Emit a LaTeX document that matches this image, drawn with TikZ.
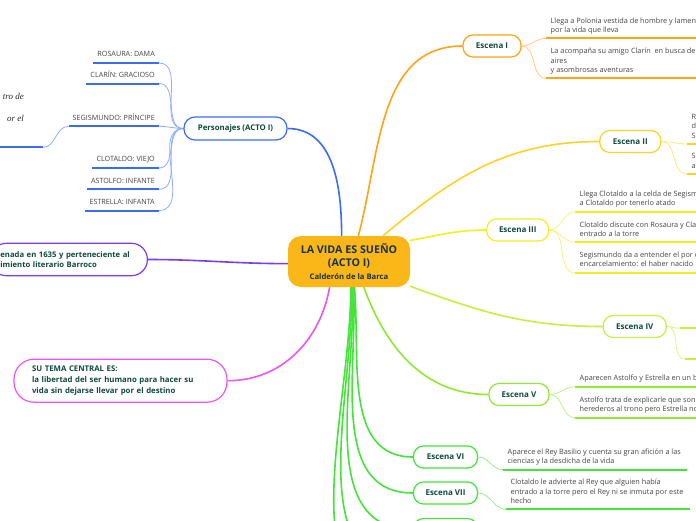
\documentclass[tikz,border=0pt]{standalone}
\usepackage{fontspec}
\setmainfont{Open Sans}
\newfontfamily\serifit{Liberation Serif}
\usetikzlibrary{backgrounds}
\definecolor{cfill}{HTML}{FBB717}
\definecolor{ctext}{HTML}{17324D}
\definecolor{tgreen}{HTML}{0E4A3C}
\definecolor{tgray}{HTML}{454545}
\definecolor{cblue}{HTML}{3B6CF6}
\definecolor{lblue}{HTML}{8FAEFF}
\definecolor{corange}{HTML}{FFA415}
\definecolor{lorange}{HTML}{FFCC80}
\definecolor{cgold}{HTML}{FFD224}
\definecolor{lgold}{HTML}{FFE680}
\definecolor{cyel}{HTML}{F3EE1E}
\definecolor{lyel}{HTML}{F7F380}
\definecolor{clime}{HTML}{C6F03C}
\definecolor{llime}{HTML}{DDF78A}
\definecolor{cgrfive}{HTML}{8FEA2C}
\definecolor{lgrfive}{HTML}{BDF387}
\definecolor{cgrsix}{HTML}{45E43A}
\definecolor{lgrsix}{HTML}{94EF8C}
\definecolor{cpurp}{HTML}{7A3CF0}
\definecolor{cpink}{HTML}{EE55EE}
\begin{document}
\begin{tikzpicture}[x=1pt,y=-1pt,
  branch/.style={draw=#1, line width=1.2pt, fill=white, rounded corners=10pt, minimum height=22pt, font=\fontsize{8}{10}\selectfont\bfseries, text=tgreen, inner sep=2pt},
  leaf/.style={font=\fontsize{7.3}{9.4}\selectfont, text=tgray, align=left, inner xsep=4.5pt, inner ysep=4pt, text depth=1.6pt},
  pleaf/.style={font=\fontsize{7.2}{9}\selectfont, text=tgray, inner xsep=4pt, inner ysep=4.5pt, text depth=1.6pt, anchor=south east},
  mainc/.style={draw=#1, line width=1.6pt},
  subc/.style={draw=#1, line width=0.8pt},
  uline/.style={draw=#1, line width=2pt},
]
\useasboundingbox (0,0) rectangle (696,520);
\clip (0,0) rectangle (696,520);

% central node
\node[fill=cfill, rounded corners=13pt, minimum width=122pt, minimum height=51pt, align=center, text=ctext, font=\fontsize{10.7}{13.2}\selectfont\bfseries, inner sep=0pt] (c) at (349,261.5) {LA VIDA ES SUEÑO\\(ACTO I)\\\fontsize{7.7}{13.6}\selectfont Calderón de la Barca};

% Personajes
\node[branch=cblue, minimum width=103pt, minimum height=23pt, rounded corners=11pt, font=\fontsize{7.8}{9}\selectfont\bfseries] (pers) at (235.5,128.5) {Personajes (ACTO I)};
\node[pleaf] (ros) at (159,63) {ROSAURA: DAMA};
\node[pleaf] (cla) at (159,83.5) {CLARÍN: GRACIOSO};
\node[pleaf] (seg) at (159,126.3) {SEGISMUNDO: PRÍNCIPE};
\node[pleaf] (clo) at (159,168) {CLOTALDO: VIEJO};
\node[pleaf] (ast) at (159,189.3) {ASTOLFO: INFANTE};
\node[pleaf] (est) at (159,210.5) {ESTRELLA: INFANTA};
\node[font=\serifit\itshape\fontsize{9}{21.5}\selectfont, text=black!85, align=right, anchor=north east, inner sep=0pt] (itx) at (24,93.5) {tro de\\or el\hspace{3.5pt}};
\coordinate (itR) at (43,147.3);
\coordinate (itL) at (-5,147.3);

% purple and pink
\node[draw=cpurp, line width=1.2pt, fill=white, rounded corners=16pt, minimum height=32.4pt, text width=137pt, inner xsep=10pt, align=left, font=\fontsize{7.7}{10.7}\selectfont\bfseries, text=tgreen, anchor=east] (pur) at (148,259.5) {enada en 1635 y perteneciente al\\imiento literario Barroco};
\node[draw=cpink, line width=1.2pt, fill=white, rounded corners=20pt, minimum width=213pt, minimum height=43pt, text width=177pt, inner xsep=18pt, align=left, font=\fontsize{7.8}{11}\selectfont\bfseries, text=tgreen] (pink) at (120.5,380.7) {SU TEMA CENTRAL ES:\\la libertad del ser humano para hacer su\\vida sin dejarse llevar por el destino};

% Escenas
\node[branch=corange, minimum width=58pt] (e1) at (492,46) {Escena I};
\node[branch=cgold, minimum width=61pt] (e2) at (630.3,141.5) {Escena II};
\node[branch=cyel, minimum width=62pt] (e3) at (517.7,230) {Escena III};
\node[branch=clime, minimum width=63pt] (e4) at (634.7,326.5) {Escena IV};
\node[branch=cgrfive, minimum width=60pt] (e5) at (519,394.5) {Escena V};
\node[branch=cgrsix, minimum width=64pt] (e6) at (445.5,457) {Escena VI};
\node[branch=cgrsix, minimum width=64pt] (e7) at (445.5,493) {Escena VII};
\node[branch=cgrsix, minimum width=64pt] (e8) at (445.5,529.5) {};
\coordinate (e9) at (413,570);
\coordinate (e10) at (413,610);

% leaves
\node[leaf, anchor=south west] (l11) at (546,38.3) {Llega a Polonia vestida de hombre y lamen\\por la vida que lleva};
\coordinate (l11e) at (700,38.3);
\node[leaf, anchor=south west] (l12) at (546,78.3) {La acompaña su amigo Clarín\ \ en busca de\\aires\\y asombrosas aventuras};
\coordinate (l12e) at (700,78.3);
\node[leaf, anchor=south west] (l21) at (687,144) {R\\d\\S};
\coordinate (l21e) at (700,144);
\node[leaf, anchor=south west] (l22) at (687,174) {S\\a};
\coordinate (l22e) at (700,174);
\node[leaf, anchor=south west] (l31) at (575,211.7) {Llega Clotaldo a la celda de Segism\\a Clotaldo por tenerlo atado};
\coordinate (l31e) at (700,211.7);
\node[leaf, anchor=south west] (l32) at (575,242.3) {Clotaldo discute con Rosaura y Clar\\entrado a la torre};
\coordinate (l32e) at (700,242.3);
\node[leaf, anchor=south west] (l33) at (575,272.7) {Segismundo da a entender el por q\\encarcelamiento: el haber nacido};
\coordinate (l33e) at (700,272.7);
\coordinate (l41) at (680,328.3);
\coordinate (l41e) at (700,328.3);
\coordinate (l42) at (685,359);
\coordinate (l42e) at (700,359);
\node[leaf, anchor=south west] (l51) at (575,386.7) {Aparecen Astolfo y Estrella en un b};
\coordinate (l51e) at (700,386.7);
\node[leaf, anchor=south west] (l52) at (575,417.7) {Astolfo trata de explicarle que son\\herederos al trono pero Estrella no};
\coordinate (l52e) at (700,417.7);
\node[leaf, anchor=south west] (l61) at (503,469.7) {Aparece el Rey Basilio y cuenta su gran afición a las\\ciencias y la desdicha de la vida};
\coordinate (l61e) at (687,469.7);
\node[leaf, anchor=south west] (l71) at (506,509.3) {Clotaldo le advierte al Rey que alguien había\\entrado a la torre pero el Rey ni se inmuta por este\\hecho};
\coordinate (l71e) at (690,509.3);
\coordinate (l81) at (506,545);

\begin{pgfonlayer}{background}
\fill[white] (0,0) rectangle (696,520);
% main connectors
\draw[mainc=cblue] (c.106) to[out=90,in=0] (pers.east);
\draw[mainc=corange] (c.70) to[out=75,in=180] (e1.west);
\draw[mainc=cgold] (c.37) to[out=40,in=180] (e2.west);
\draw[mainc=cyel] (c.19) to[out=10,in=180] (e3.west);
\draw[mainc=clime] (c.-22) to[out=-20,in=180] (e4.west);
\draw[mainc=cgrfive] (c.-60) to[out=-70,in=180] (e5.west);
\draw[mainc=cgrsix] (c.-78) to[out=-85,in=180] (e6.west);
\draw[mainc=cgrsix] (c.-80) to[out=-87,in=180] (e7.west);
\draw[mainc=cgrsix] (c.-82) to[out=-88,in=180] (e8.west);
\draw[mainc=cgrsix] (c.-84) to[out=-89,in=180] (e9);
\draw[mainc=cgrsix] (c.-86) to[out=-90,in=180] (e10);
\draw[mainc=cpurp] (pur.east) to[out=0,in=180] (c.182);
\draw[mainc=cpink] (pink.east) to[out=0,in=-100] (c.-127);
% personajes
\foreach \n in {ros,cla,seg,clo,ast,est}{
  \draw[subc=lblue] (pers.west) to[out=180,in=0] (\n.south east);
  \draw[uline=cblue] (\n.south west) -- (\n.south east);
}
\draw[subc=lblue] (seg.south west) to[out=180,in=0] (itR);
\draw[uline=cblue] (itL) -- (itR);
% escena I
\draw[subc=lorange] (e1.east) to[out=0,in=180] (l11.south west);
\draw[subc=lorange] (e1.east) to[out=0,in=180] (l12.south west);
\draw[uline=corange] (l11.south west) -- (l11e);
\draw[uline=corange] (l12.south west) -- (l12e);
% escena II
\draw[subc=lgold] (e2.east) to[out=0,in=180] (l21.south west);
\draw[subc=lgold] (e2.east) to[out=0,in=180] (l22.south west);
\draw[uline=cgold] (l21.south west) -- (l21e);
\draw[uline=cgold] (l22.south west) -- (l22e);
% escena III
\foreach \n in {l31,l32,l33}{
  \draw[subc=lyel] (e3.east) to[out=0,in=180] (\n.south west);
  \draw[uline=cyel] (\n.south west) -- (\n e);
}
% escena IV
\draw[subc=llime] (e4.east) to[out=0,in=180] (l41);
\draw[subc=llime] (e4.east) to[out=0,in=180] (l42);
\draw[uline=clime] (l41) -- (l41e);
\draw[uline=clime] (l42) -- (l42e);
% escena V
\foreach \n in {l51,l52}{
  \draw[subc=lgrfive] (e5.east) to[out=0,in=180] (\n.south west);
  \draw[uline=cgrfive] (\n.south west) -- (\n e);
}
% escena VI, VII, VIII
\draw[subc=lgrsix] (e6.east) to[out=0,in=180] (l61.south west);
\draw[uline=cgrsix] (l61.south west) -- (l61e);
\draw[subc=lgrsix] (e7.east) to[out=0,in=180] (l71.south west);
\draw[uline=cgrsix] (l71.south west) -- (l71e);
\draw[subc=lgrsix] (e8.east) to[out=0,in=180] (l81);
\end{pgfonlayer}
\end{tikzpicture}
\end{document}
